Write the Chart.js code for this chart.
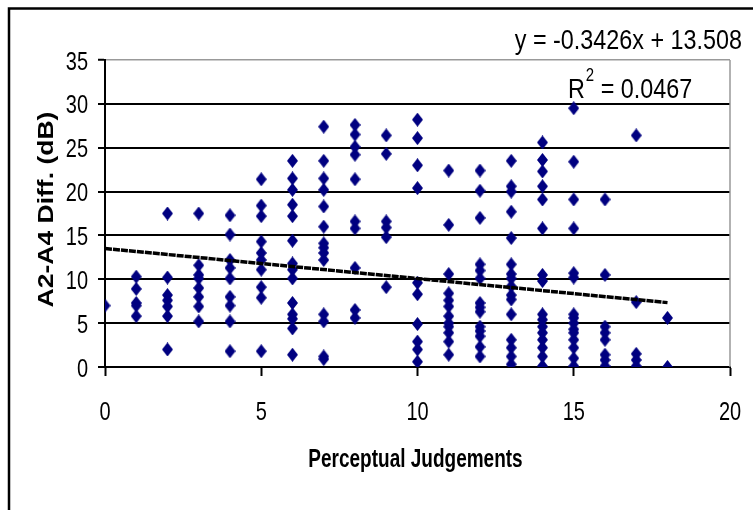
<!DOCTYPE html>
<html>
<head>
<meta charset="utf-8">
<script src="https://cdn.jsdelivr.net/npm/chart.js@4.4.0/dist/chart.umd.min.js"></script>
<style>
  html, body { margin: 0; padding: 0; background: #fff; }
  #wrap { width: 753px; height: 510px; }
</style>
</head>
<body>
<div id="wrap"><canvas id="chart" width="753" height="510"></canvas></div>
<script>
var judgements = [0, 1, 2, 3, 4, 5, 6, 7, 8, 9, 10, 11, 12, 13, 14, 15, 16, 17, 18];
var diffs = [
  [7.0],
  [10.3, 8.9, 7.3, 7.0, 5.8],
  [17.5, 10.2, 8.2, 7.6, 6.9, 5.8, 2.0],
  [17.5, 11.6, 10.5, 10.1, 9.0, 8.0, 6.9, 5.2],
  [17.3, 15.1, 12.2, 11.3, 10.1, 8.0, 7.0, 5.2, 1.8],
  [21.4, 18.4, 17.2, 14.3, 13.0, 12.2, 11.1, 9.1, 7.9, 1.8],
  [23.5, 21.5, 20.2, 18.5, 17.2, 14.4, 11.8, 11.1, 10.1, 7.3, 6.0, 5.5, 4.4, 1.4],
  [27.4, 23.5, 21.5, 20.2, 18.3, 16.0, 14.1, 13.6, 13.0, 12.2, 6.0, 5.2, 1.2, 0.9],
  [27.6, 26.5, 25.1, 24.2, 21.4, 16.6, 15.8, 11.3, 6.5, 5.6],
  [26.4, 24.3, 16.6, 15.9, 14.8, 9.1],
  [28.2, 26.1, 23.0, 20.4, 9.6, 8.3, 4.9, 2.9, 2.0, 0.6],
  [22.4, 16.2, 10.6, 8.4, 7.6, 6.9, 5.8, 5.0, 4.6, 3.9, 2.9, 1.4],
  [22.4, 20.1, 17.0, 11.7, 11.0, 10.1, 7.3, 6.8, 6.3, 4.6, 4.1, 3.5, 2.3, 1.2],
  [23.5, 20.6, 20.0, 17.7, 14.7, 11.7, 10.6, 10.1, 9.2, 8.2, 7.7, 6.0, 3.1, 2.2, 1.2, 0.3],
  [25.6, 23.6, 22.3, 20.6, 19.1, 15.8, 10.5, 9.8, 6.0, 5.4, 4.6, 3.9, 3.1, 2.2, 1.2, 0.1],
  [29.5, 23.4, 19.1, 15.8, 10.7, 10.2, 6.0, 5.6, 5.0, 4.3, 3.9, 3.1, 2.2, 1.0, 0.1],
  [19.1, 10.5, 4.6, 3.9, 3.1, 1.4, 0.8, 0.1],
  [26.4, 7.4, 1.5, 0.8, 0.1],
  [5.6, 0.0]
];
// linear trend line end points
var trendX = [0, 18];
var trendY = [13.51, 7.34];
var yTicks = [0, 5, 10, 15, 20, 25, 30, 35];
var xTicks = [0, 5, 10, 15, 20];

var sans = "'Liberation Sans', Arial, sans-serif";

function makeDiamond(w, h, color){
  var c = document.createElement('canvas');
  c.width = w; c.height = h;
  var g = c.getContext('2d');
  g.fillStyle = color;
  g.beginPath();
  g.moveTo(w / 2, 0);
  g.lineTo(w, h / 2);
  g.lineTo(w / 2, h);
  g.lineTo(0, h / 2);
  g.closePath();
  g.fill();
  return c;
}

// the source picture is squeezed sideways, so text is drawn narrowed
function squeezed(ctx, text, x, y, font, align, sx){
  ctx.save();
  ctx.font = font;
  ctx.textAlign = align;
  ctx.textBaseline = 'alphabetic';
  ctx.translate(x, y);
  ctx.scale(sx, 1);
  ctx.fillText(text, 0, 0);
  var w = ctx.measureText(text).width * sx;
  ctx.restore();
  return w;
}

var points = [];
for(var i in judgements){
  var row = diffs[i];
  for(var j in row){
    points.push({x: judgements[i], y: row[j]});
  }
}

var trend = [];
for(var k in trendX){
  trend.push({x: trendX[k], y: trendY[k]});
}

var extras = {
  id: 'extras',
  beforeDraw: function(chart){
    var ctx = chart.ctx;
    ctx.save();
    ctx.fillStyle = '#fff';
    ctx.fillRect(0, 0, chart.width, chart.height);
    ctx.restore();
  },
  afterDraw: function(chart){
    var ctx = chart.ctx;
    var a = chart.chartArea;
    var xs = chart.scales.x;
    var ys = chart.scales.y;
    ctx.save();
    // plot right edge and outer frame
    ctx.strokeStyle = '#999';
    ctx.lineWidth = 1.5;
    ctx.beginPath();
    ctx.moveTo(a.right, a.top);
    ctx.lineTo(a.right, a.bottom);
    ctx.stroke();
    ctx.strokeStyle = '#000';
    ctx.lineWidth = 2.5;
    ctx.strokeRect(9, 8.5, 800, 600);
    ctx.fillStyle = '#000';

    // tick labels
    var tickFont = '25px ' + sans;
    yTicks.forEach(function(v){
      squeezed(ctx, String(v), 88, ys.getPixelForValue(v) + 9.5, tickFont, 'right', 0.8);
    });
    xTicks.forEach(function(v){
      squeezed(ctx, String(v), xs.getPixelForValue(v), 419.5, tickFont, 'center', 0.8);
    });

    // axis titles
    squeezed(ctx, 'Perceptual Judgements', (a.left + a.right) / 2 - 2, 467,
             'bold 25px ' + sans, 'center', 0.76);
    ctx.save();
    ctx.font = 'bold 26.5px ' + sans;
    ctx.textAlign = 'center';
    ctx.textBaseline = 'alphabetic';
    ctx.translate(53, (a.top + a.bottom) / 2 - 4);
    ctx.rotate(-Math.PI / 2);
    ctx.scale(1, 0.8);
    ctx.fillText('A2-A4 Diff. (dB)', 0, 0);
    ctx.restore();

    // regression texts
    squeezed(ctx, 'y = -0.3426x + 13.508', 742, 48.5, '28px ' + sans, 'right', 0.834);
    var x0 = 568;
    x0 += squeezed(ctx, 'R', x0, 98, '28px ' + sans, 'left', 0.834);
    x0 += squeezed(ctx, '2', x0 + 1, 81, '18px ' + sans, 'left', 0.834) + 1;
    squeezed(ctx, ' = 0.0467', x0, 98, '28px ' + sans, 'left', 0.834);
    ctx.restore();
  }
};

var diamond = makeDiamond(11, 14, '#000080');

var line_chart = new Chart(document.getElementById('chart'), {
  type: 'scatter',
  data: {
    datasets: [{
      type: 'line',
      data: trend,
      borderColor: '#000',
      borderWidth: 3.5,
      borderDash: [7, 1],
      pointRadius: 0,
      fill: false
    }, {
      data: points,
      pointStyle: diamond,
      pointRadius: 6,
      backgroundColor: '#000080',
      borderColor: '#000080'
    }]
  },
  options: {
    responsive: false,
    animation: false,
    events: [],
    layout: {
      autoPadding: false,
      padding: {left: 0, top: 60, right: 23, bottom: 0}
    },
    plugins: {
      legend: {display: false},
      tooltip: {enabled: false}
    },
    scales: {
      x: {
        type: 'linear',
        min: 0,
        max: 20,
        afterFit: function(scale){
          scale.height = 143;
          scale.paddingLeft = 0;
          scale.paddingRight = 0;
        },
        afterBuildTicks: function(scale){
          scale.ticks = xTicks.map(function(v){ return {value: v}; });
        },
        ticks: {display: false},
        grid: {
          drawOnChartArea: false,
          drawTicks: true,
          tickLength: 9,
          tickColor: '#000',
          tickWidth: 2
        },
        border: {color: '#000', width: 2}
      },
      y: {
        type: 'linear',
        min: 0,
        max: 35,
        afterFit: function(scale){
          scale.width = 105;
          scale.paddingTop = 0;
          scale.paddingBottom = 0;
        },
        afterBuildTicks: function(scale){
          scale.ticks = yTicks.map(function(v){ return {value: v}; });
        },
        ticks: {display: false},
        grid: {
          color: function(c){ return c.tick && c.tick.value === 35 ? '#999' : '#000'; },
          lineWidth: function(c){ return c.tick && c.tick.value === 35 ? 1.5 : 2; },
          tickLength: 7,
          tickColor: '#000',
          tickWidth: 2
        },
        border: {color: '#000', width: 2}
      }
    }
  },
  plugins: [extras]
});
</script>
</body>
</html>
